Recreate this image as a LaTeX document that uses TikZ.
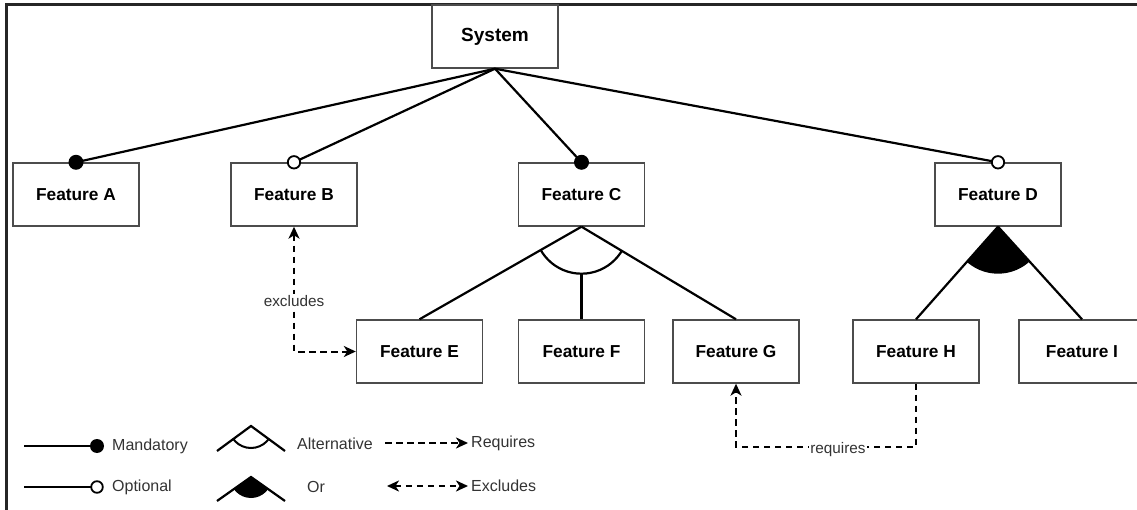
\documentclass[tikz,border=0pt]{standalone}
\usepackage{fontspec}
\setmainfont{Liberation Sans}
\usetikzlibrary{arrows.meta,calc}
\begin{document}
\begin{tikzpicture}[x=1pt,y=-1pt,
  feat/.style={draw=black!70, line width=1.4pt, minimum width=126pt, minimum height=63pt,
    inner sep=0pt, font=\fontsize{17.3}{20}\selectfont\bfseries},
  conn/.style={line width=2.2pt, draw=black},
  dep/.style={line width=2pt, dash pattern=on 6.5pt off 4.5pt},
  lbl/.style={font=\fontsize{15.3}{18}\selectfont, text=black!80, fill=white, inner sep=1pt},
  leg/.style={font=\fontsize{16}{19}\selectfont, text=black!80, inner sep=0pt},
  mand/.style={fill=black},
  opt/.style={line width=1.8pt, draw=black, fill=white}]
\tikzset{>={Stealth[length=12pt,width=11pt,inset=3.5pt]}}
\useasboundingbox (0,0) rectangle (1137,510);
% frame
\draw[line width=2.2pt, black!85] (1137,4.5) -- (6.5,4.5) -- (6.5,510);

% nodes
\node[feat, font=\fontsize{19}{22}\selectfont\bfseries] (S) at (495,36.5) {System};
\node[feat] (A) at (76,194.5) {Feature A};
\node[feat] (B) at (294,194.5) {Feature B};
\node[feat] (C) at (581.5,194.5) {Feature C};
\node[feat] (D) at (998,194.5) {Feature D};
\node[feat] (E) at (419.5,351.5) {Feature E};
\node[feat] (F) at (581.5,351.5) {Feature F};
\node[feat] (G) at (736,351.5) {Feature G};
\node[feat] (H) at (916,351.5) {Feature H};
\node[feat] (I) at (1082,351.5) {Feature I};

% system to level 1
\draw[conn] (S.south) -- (A.north);
\draw[conn] (S.south) -- (B.north);
\draw[conn] (S.south) -- (C.north);
\draw[conn] (S.south) -- (D.north);
\fill[mand] (A.north) circle (7.5);
\fill[mand] (C.north) circle (7.5);
\draw[opt] (B.north) circle (6.2);
\draw[opt] (D.north) circle (6.2);

% alternative group under C
\draw[conn] (C.south) -- (E.north);
\draw[conn] (C.south) -- (G.north);
\draw[conn] ($(C.south)+(0,47)$) -- (F.north);
\begin{scope}
  \clip (C.south) -- ($(C.south)!3!(E.north)$) -- ($(C.south)!3!(G.north)$) -- cycle;
  \draw[conn] (C.south) circle (47);
\end{scope}

% or group under D
\draw[conn] (D.south) -- (H.north);
\draw[conn] (D.south) -- (I.north);
\begin{scope}
  \clip (D.south) -- ($(D.south)!3!(H.north)$) -- ($(D.south)!3!(I.north)$) -- cycle;
  \fill (D.south) circle (47);
\end{scope}

% excludes B <-> E
\draw[dep, <->] (B.south) |- (E.west);
\node[lbl] (exlbl) at ($(B.south)+(0,74)$) {excludes};

% requires H -> G
\draw[dep, ->] (H.south) -- ++(0,63) coordinate (rq) -| (G.south);
\node[lbl] (rqlbl) at ($(rq)+(-78,3)$) {requires};

% legend
\coordinate (m0) at (24,446);
\coordinate (m1) at (97,446);
\draw[conn] (m0) -- (m1);
\fill[mand] (m1) circle (7);
\node[leg, anchor=west] (lmand) at (112,446) {Mandatory};

\coordinate (o0) at (24,487);
\coordinate (o1) at (97,487);
\draw[conn] (o0) -- (o1);
\draw[opt] (o1) circle (5.8);
\node[leg, anchor=west] (lopt) at (112,487) {Optional};

\coordinate (a0) at (251,426);
\coordinate (a1) at (217,451);
\coordinate (a2) at (285,451);
\draw[conn] (a1) -- (a0) -- (a2);
\begin{scope}
  \clip (a0) -- ($(a0)!3!(a1)$) -- ($(a0)!3!(a2)$) -- cycle;
  \draw[line width=2pt] (a0) circle (22);
\end{scope}
\node[leg, anchor=west] (lalt) at (297,444) {Alternative};

\coordinate (r0) at (251,477);
\coordinate (r1) at (217,501);
\coordinate (r2) at (285,501);
\draw[conn] (r1) -- (r0) -- (r2);
\begin{scope}
  \clip (r0) -- ($(r0)!3!(r1)$) -- ($(r0)!3!(r2)$) -- cycle;
  \fill (r0) circle (21);
\end{scope}
\node[leg] (lor) at (316,487) {Or};

\node[leg, anchor=west] (lreq) at (471,443) {Requires};
\coordinate (q0) at (385,443);
\draw[dep, ->] (q0) -- ($(lreq.west)+(-3,0)$);

\node[leg, anchor=west] (lexc) at (471,486) {Excludes};
\coordinate (x0) at (387,486);
\draw[dep, <->] (x0) -- ($(lexc.west)+(-3,0)$);
\end{tikzpicture}
\end{document}
